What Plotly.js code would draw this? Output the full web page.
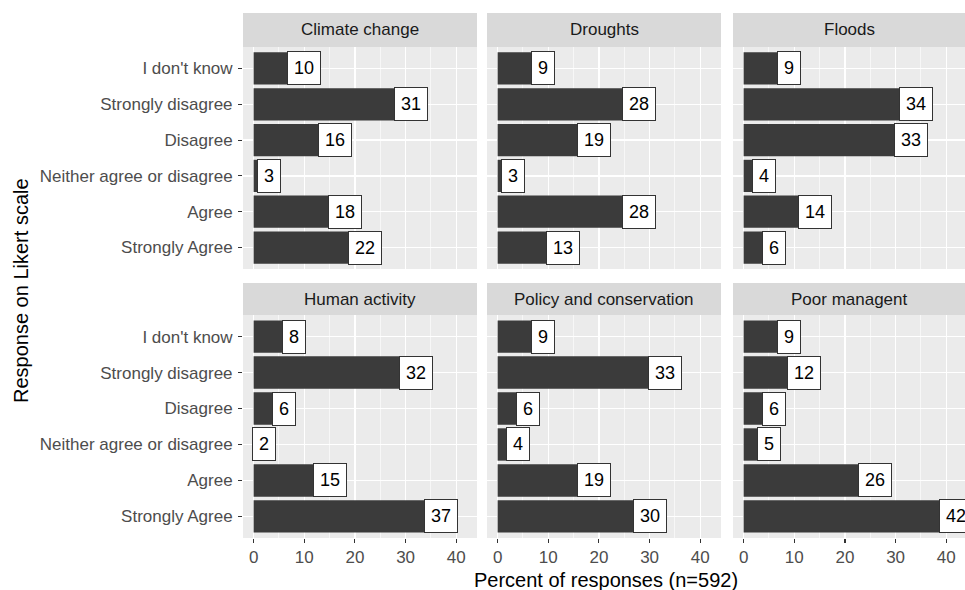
<!DOCTYPE html>
<html>
<head>
<meta charset="utf-8">
<script src="https://cdn.plot.ly/plotly-3.0.1.min.js"></script>
<style>html,body{margin:0;padding:0;background:#fff;}#chart{width:965px;height:590px;}</style>
</head>
<body>
<div id="chart"></div>
<script>
// ---- data ----
const categories = ["I don't know", "Strongly disagree", "Disagree", "Neither agree or disagree", "Agree", "Strongly Agree"];
const facets = ["Climate change", "Droughts", "Floods", "Human activity", "Policy and conservation", "Poor managent"];
const climateChange = [10, 31, 16, 3, 18, 22];
const droughts = [9, 28, 19, 3, 28, 13];
const floods = [9, 34, 33, 4, 14, 6];
const humanActivity = [8, 32, 6, 2, 15, 37];
const policyConservation = [9, 33, 6, 4, 19, 30];
const poorManagement = [9, 12, 6, 5, 26, 42];
const xTicks = [0, 10, 20, 30, 40];
const xTitle = "Percent of responses (n=592)";
const yTitle = "Response on Likert scale";

const seriesList = [climateChange, droughts, floods, humanActivity, policyConservation, poorManagement];

// ---- layout geometry (pixels) ----
const W = 965, H = 590;
const colPx = [[243, 477], [487, 721], [733, 965]];
const colRange = [[-2.1, 44.1], [-2.1, 44.1], [-2.1, 43.7]];
const rowPx = [[47, 269], [315, 538]];
const stripPx = [[13, 47], [283, 315]];
const FONT = "Liberation Sans, Arial, sans-serif";
const bottomUp = categories.slice().reverse();

const traces = [];
const layout = {
  width: W, height: H, autosize: false,
  margin: {l: 0, r: 0, t: 0, b: 0, pad: 0},
  paper_bgcolor: "#ffffff",
  plot_bgcolor: "#ebebeb",
  showlegend: false,
  font: {family: FONT},
  shapes: [],
  annotations: []
};

facets.forEach((name, i) => {
  const row = Math.floor(i / 3), col = i % 3;
  const n = i === 0 ? "" : String(i + 1);
  const xa = "x" + n, ya = "y" + n;
  traces.push({
    type: "bar", orientation: "h",
    x: seriesList[i], y: categories,
    xaxis: xa, yaxis: ya,
    width: 0.9,
    marker: {color: "#3b3b3b", line: {width: 0}},
    hoverinfo: "skip"
  });
  layout["xaxis" + n] = {
    domain: [colPx[col][0] / W, colPx[col][1] / W],
    anchor: ya,
    range: colRange[col],
    tickvals: xTicks,
    ticktext: xTicks.map(String),
    showticklabels: row === 1,
    ticks: row === 1 ? "outside" : "",
    ticklen: 4, tickwidth: 1.1, tickcolor: "#333333",
    tickfont: {size: 17, color: "#4d4d4d", family: FONT},
    showgrid: true, gridcolor: "#ffffff", gridwidth: 1.4,
    minor: {dtick: 5, tick0: 5, showgrid: true, gridcolor: "#ffffff", gridwidth: 0.6, ticks: ""},
    zeroline: false, showline: false, fixedrange: true
  };
  layout["yaxis" + n] = {
    domain: [1 - rowPx[row][1] / H, 1 - rowPx[row][0] / H],
    anchor: xa,
    type: "category",
    categoryorder: "array",
    categoryarray: bottomUp,
    range: [-0.6, 5.6],
    showticklabels: col === 0,
    ticks: col === 0 ? "outside" : "",
    ticklen: 4, tickwidth: 1.1, tickcolor: "#333333",
    ticklabelstandoff: 2,
    tickfont: {size: 17, color: "#4d4d4d", family: FONT},
    showgrid: true, gridcolor: "#ffffff", gridwidth: 1.4,
    zeroline: false, showline: false, fixedrange: true
  };
  // strip background
  layout.shapes.push({
    type: "rect", xref: "paper", yref: "paper", layer: "below",
    x0: colPx[col][0] / W, x1: colPx[col][1] / W,
    y0: 1 - stripPx[row][1] / H, y1: 1 - stripPx[row][0] / H,
    fillcolor: "#d9d9d9", line: {width: 0}
  });
  // strip text
  layout.annotations.push({
    xref: "paper", yref: "paper",
    x: (colPx[col][0] + colPx[col][1]) / 2 / W,
    y: 1 - (stripPx[row][0] + stripPx[row][1]) / 2 / H,
    xanchor: "center", yanchor: "middle",
    text: name, showarrow: false,
    font: {size: 17, color: "#1a1a1a", family: FONT}
  });
  // value labels
  seriesList[i].forEach((v, k) => {
    layout.annotations.push({
      xref: xa, yref: ya, x: v, y: categories[k],
      xanchor: "center", yanchor: "middle",
      text: String(v), showarrow: false,
      bgcolor: "#ffffff", bordercolor: "#333333", borderwidth: 1, borderpad: 6,
      font: {size: 18, color: "#000000", family: FONT}
    });
  });
});

// axis titles
layout.annotations.push({
  xref: "paper", yref: "paper", x: 606 / W, y: 1 - 580 / H,
  xanchor: "center", yanchor: "middle", showarrow: false,
  text: xTitle, font: {size: 20, color: "#000000", family: FONT}
});
layout.annotations.push({
  xref: "paper", yref: "paper", x: 21 / W, y: 1 - 291 / H,
  xanchor: "center", yanchor: "middle", showarrow: false, textangle: -90,
  text: yTitle, font: {size: 20, color: "#000000", family: FONT}
});

Plotly.newPlot("chart", traces, layout, {staticPlot: true, displayModeBar: false});
</script>
</body>
</html>
